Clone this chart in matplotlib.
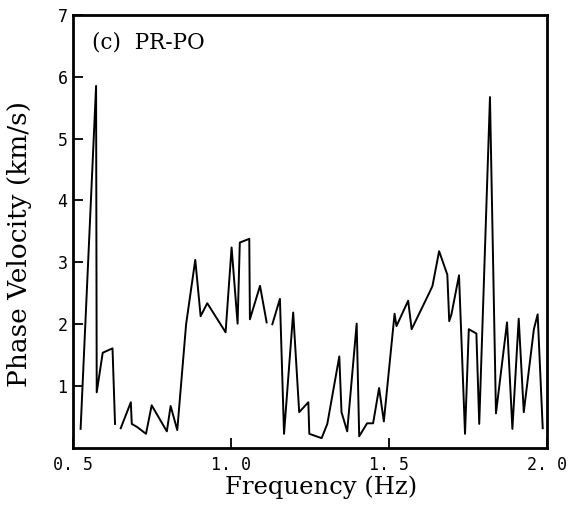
import numpy as np
import matplotlib
matplotlib.use("Agg")
import matplotlib.pyplot as plt

# values (NaN = gap in the curve)
freq = [0.524, 0.573, 0.575, 0.594, 0.625, 0.633, np.nan,
        0.651, 0.683, 0.686, 0.703, 0.731, 0.749, 0.797, 0.809, 0.830,
        0.858, 0.887, 0.904, 0.925, 0.983, 1.002, 1.021, 1.028, 1.058,
        1.060, 1.092, 1.113, np.nan,
        1.131, 1.155, 1.168, 1.197, 1.216, 1.245, 1.248, 1.287, 1.305,
        1.343, 1.350, 1.368, 1.398, 1.406, 1.431, 1.450, 1.469, 1.484,
        1.518, 1.524, 1.561, 1.572, 1.630, 1.638, 1.659, 1.685, 1.691,
        1.698, 1.722, 1.741, 1.753, 1.777, 1.786, 1.820, 1.839, 1.874,
        1.891, 1.911, 1.927, 1.959, 1.971, 1.987]
velocity = [0.31, 5.85, 0.90, 1.54, 1.61, 0.39, np.nan,
            0.32, 0.74, 0.39, 0.34, 0.23, 0.69, 0.27, 0.68, 0.29,
            2.00, 3.04, 2.13, 2.34, 1.87, 3.24, 2.01, 3.32, 3.38,
            2.08, 2.62, 2.03, np.nan,
            2.00, 2.41, 0.23, 2.19, 0.58, 0.74, 0.23, 0.16, 0.39,
            1.48, 0.58, 0.27, 2.01, 0.19, 0.40, 0.40, 0.97, 0.43,
            2.17, 1.97, 2.38, 1.92, 2.53, 2.62, 3.18, 2.80, 2.05,
            2.16, 2.79, 0.23, 1.92, 1.85, 0.39, 5.67, 0.56, 2.03,
            0.31, 2.09, 0.58, 1.92, 2.16, 0.32]

xticks = [0.5, 1.0, 1.5, 2.0]
xtick_labels = ["0. 5", "1. 0", "1. 5", "2. 0"]
yticks = [1, 2, 3, 4, 5, 6, 7]

fig = plt.figure(figsize=(5.75, 5.08), dpi=100)
ax = fig.add_axes([0.127, 0.118, 0.824, 0.853])

ax.plot(freq, velocity, color="black", linewidth=1.4)

ax.set_xlim(0.5, 2.0)
ax.set_ylim(0, 7)
ax.set_xticks(xticks)
ax.set_xticklabels(xtick_labels, family="DejaVu Sans Mono", fontsize=12)
ax.set_yticks(yticks)
ax.set_yticklabels([str(v) for v in yticks], family="DejaVu Sans Mono", fontsize=12)
ax.tick_params(direction="in", length=7, width=1.3)
ax.tick_params(axis="y", pad=4)
ax.tick_params(axis="x", pad=6)

for s in ax.spines.values():
    s.set_linewidth(2)

ax.set_xlabel("Frequency (Hz)", family="DejaVu Serif", fontsize=17.5)
ax.xaxis.label.set_va("center")
ax.xaxis.set_label_coords(0.523, -0.09)
ax.set_ylabel("Phase Velocity (km/s)", family="DejaVu Serif", fontsize=19)
ax.yaxis.label.set_va("center")
ax.yaxis.set_label_coords(-0.112, 0.47)
ax.text(0.04, 0.935, "(c)  PR-PO", transform=ax.transAxes, family="DejaVu Serif",
        fontsize=15.5, ha="left", va="center")

fig.savefig("out.png", dpi=100)
